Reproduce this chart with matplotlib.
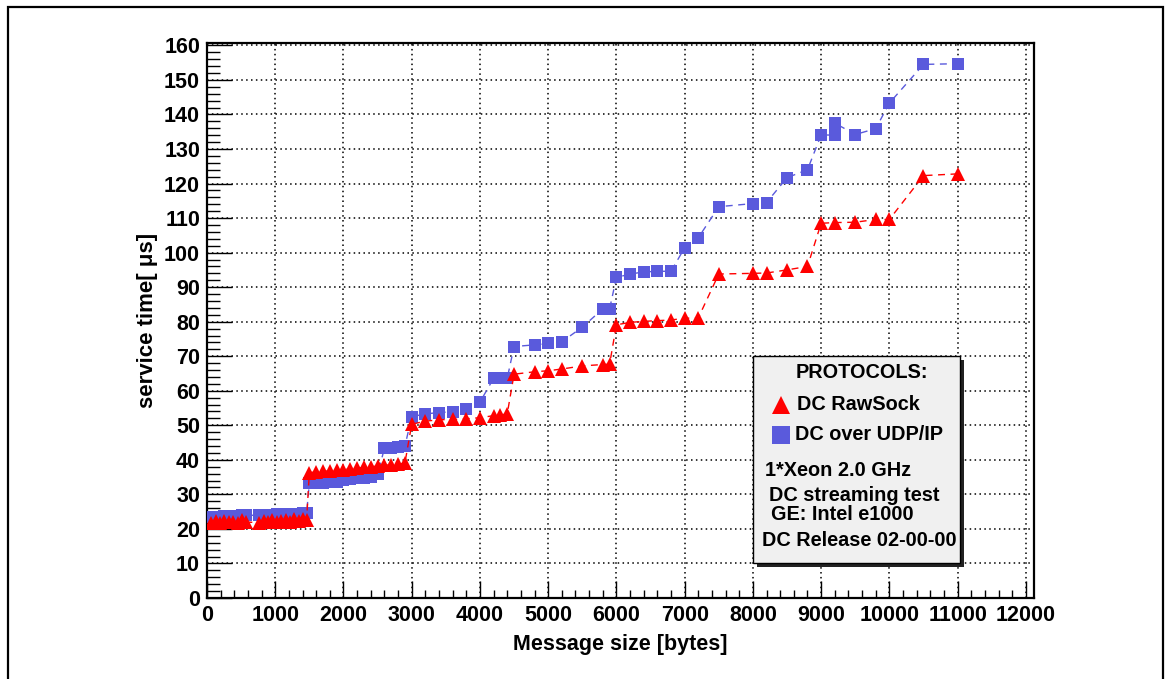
import matplotlib
matplotlib.use("Agg")
import matplotlib.pyplot as plt
from matplotlib.patches import Rectangle
from matplotlib.lines import Line2D
from matplotlib.ticker import MultipleLocator

plt.rcParams['font.family'] = ['Liberation Sans', 'DejaVu Sans']
plt.rcParams['font.weight'] = 'bold'

# Data (message size in bytes, service time in us).
rawsock_x = [64, 128, 192, 256, 320, 384, 448, 512, 576,
             768, 832, 896, 960, 1024, 1088, 1152, 1216, 1280, 1344, 1408, 1460,
             1500, 1600, 1700, 1800, 1900, 2000, 2100, 2200, 2300, 2400, 2500,
             2600, 2700, 2800, 2900,
             3000, 3200, 3400, 3600, 3800, 4000, 4200, 4300, 4400,
             4500, 4800, 5000, 5200, 5500, 5800, 5900,
             6000, 6200, 6400, 6600, 6800, 7000, 7200,
             7500, 8000, 8200, 8500, 8800,
             9000, 9200, 9500, 9800, 10000, 10500, 11000]
rawsock_t = [21.8, 22.3, 21.6, 22.4, 21.9, 22.1, 21.7, 22.5, 22.0,
             21.8, 22.4, 21.9, 22.6, 22.0, 22.3, 22.7, 22.1, 22.8, 22.4, 23.0, 22.6,
             36.3, 36.5, 36.7, 36.8, 37.0, 37.2, 37.4, 37.6, 37.8, 38.0, 38.2,
             38.4, 38.6, 38.8, 39.0,
             50.3, 51.2, 51.6, 51.7, 51.9, 52.2, 52.8, 53.0, 53.3,
             64.8, 65.5, 65.8, 66.3, 67.2, 67.6, 67.7,
             79.1, 79.8, 80.1, 80.3, 80.5, 81.0, 81.1,
             93.8, 94.0, 94.1, 95.0, 96.0,
             108.5, 108.7, 108.8, 109.6, 109.6, 122.3, 122.8]

udp_x = [64, 128, 192, 256, 320, 384, 448, 512, 576,
         768, 832, 896, 960, 1024, 1088, 1152, 1216, 1280, 1344, 1408, 1460,
         1500, 1600, 1700, 1800, 1900, 2000, 2100, 2200, 2300, 2400, 2500,
         2600, 2700, 2800, 2900,
         3000, 3200, 3400, 3600, 3800, 4000, 4200, 4300, 4400,
         4500, 4800, 5000, 5200, 5500, 5800, 5900,
         6000, 6200, 6400, 6600, 6800, 7000, 7200,
         7500, 8000, 8200, 8500, 8800,
         9000, 9200, 9200, 9500, 9800, 10000, 10500, 11000]
udp_t = [23.4, 23.5, 23.5, 23.6, 23.7, 23.7, 23.8, 23.9, 24.0,
         23.9, 24.0, 24.1, 24.1, 24.2, 24.2, 24.3, 24.3, 24.4, 24.4, 24.5, 24.5,
         33.2, 33.3, 33.4, 33.5, 33.6, 34.2, 34.4, 34.6, 34.8, 35.0, 35.8,
         43.3, 43.5, 43.7, 43.9,
         52.5, 53.3, 53.7, 53.9, 54.6, 56.7, 63.6, 63.6, 63.6,
         72.8, 73.3, 73.7, 74.2, 78.4, 83.7, 83.7,
         92.8, 93.8, 94.4, 94.6, 94.6, 101.4, 104.3,
         113.3, 114.2, 114.5, 121.7, 124.0,
         134.1, 134.0, 137.5, 134.2, 135.9, 143.3, 154.5, 154.7]

legend_title = 'PROTOCOLS:'
series_names = ['DC RawSock', 'DC over UDP/IP']
info_lines = ['1*Xeon 2.0 GHz', 'DC streaming test', 'GE: Intel e1000', 'DC Release 02-00-00']

red = '#ff0000'
blue = '#5a5adc'

fig = plt.figure(figsize=(11.7, 6.79), dpi=100)
ax = fig.add_axes([0.1769, 0.1193, 0.7069, 0.8174])

# Grid first so the markers sit on top.
ax.grid(True, which='major', color='black', linestyle=(0, (1, 2.2)), linewidth=1.1)
ax.set_axisbelow(True)

ax.plot(udp_x, udp_t, color=blue, linestyle=(0, (5, 4)), linewidth=1.0,
        marker='s', markersize=8.5, markeredgewidth=0, zorder=3)
ax.plot(rawsock_x, rawsock_t, color=red, linestyle=(0, (5, 4)), linewidth=1.0,
        marker='^', markersize=9.5, markeredgewidth=0, zorder=4)

ax.set_xlim(0, 12120)
ax.set_ylim(0, 160.7)
ax.xaxis.set_major_locator(MultipleLocator(1000))
ax.xaxis.set_minor_locator(MultipleLocator(200))
ax.yaxis.set_major_locator(MultipleLocator(10))
ax.yaxis.set_minor_locator(MultipleLocator(2))

ax.tick_params(axis='both', which='both', direction='in', width=1.0,
               labelsize=15.5, top=False, right=False)
ax.tick_params(axis='x', which='major', length=12, pad=5)
ax.tick_params(axis='x', which='minor', length=6)
ax.tick_params(axis='y', which='major', length=18, pad=5)
ax.tick_params(axis='y', which='minor', length=9)
for lab in ax.get_xticklabels() + ax.get_yticklabels():
    lab.set_fontweight('bold')
for sp in ax.spines.values():
    sp.set_linewidth(1.6)

ax.set_xlabel('Message size [bytes]', fontsize=15.5, fontweight='bold')
ax.set_ylabel('service time[ \u03bcs]', fontsize=16, fontweight='bold')
ax.xaxis.set_label_coords(0.5, -0.065)
ax.yaxis.set_label_coords(-0.059, 0.5)

# Outer frame of the canvas.
fig.add_artist(Rectangle((8 / 1170, -0.05), 1155 / 1170, 1.05 - 7 / 679,
                         transform=fig.transFigure, fill=False,
                         edgecolor='black', linewidth=1.6))

# Legend box with shadow.
bx0, bx1 = 753 / 1170, 960 / 1170
by0, by1 = 1 - 563 / 679, 1 - 356 / 679
sx, sy = 4 / 1170, 4 / 679
fig.add_artist(Rectangle((bx0 + sx, by0 - sy), bx1 - bx0, by1 - by0,
                         transform=fig.transFigure, facecolor='#222222',
                         edgecolor='none', zorder=5))
fig.add_artist(Rectangle((bx0, by0), bx1 - bx0, by1 - by0,
                         transform=fig.transFigure, facecolor='#f0f0f0',
                         edgecolor='black', linewidth=1.0, zorder=6))

fig.text(861.7 / 1170, 1 - 372.7 / 679, legend_title, ha='center', va='center',
         fontsize=14.3, fontweight='bold', zorder=7)
fig.add_artist(Line2D([780.7 / 1170], [1 - 405 / 679], transform=fig.transFigure,
                      marker='^', markersize=13.5, color=red, markeredgewidth=0, zorder=7))
fig.add_artist(Line2D([780.7 / 1170], [1 - 435 / 679], transform=fig.transFigure,
                      marker='s', markersize=13, color=blue, markeredgewidth=0, zorder=7))
fig.text(796.7 / 1170, 1 - 405 / 679, series_names[0], ha='left', va='center',
         fontsize=14.3, fontweight='bold', zorder=7)
fig.text(795 / 1170, 1 - 435 / 679, series_names[1], ha='left', va='center',
         fontsize=14.3, fontweight='bold', zorder=7)

info_pos = [(765, 470), (769, 495.7), (770.7, 514.3), (761.7, 540.7)]
for txt, (px, py) in zip(info_lines, info_pos):
    fig.text(px / 1170, 1 - py / 679, txt, ha='left', va='center',
             fontsize=14.3, fontweight='bold', zorder=7)

fig.savefig('out.png', dpi=100)
